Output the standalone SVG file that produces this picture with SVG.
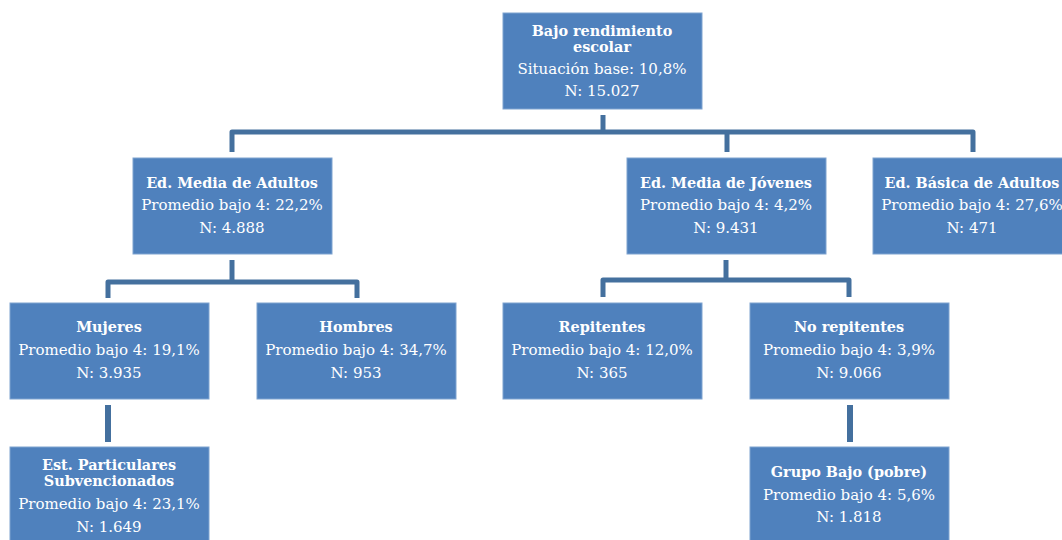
<svg xmlns="http://www.w3.org/2000/svg" width="1062" height="540" viewBox="0 0 1062 540">
<style>
.box{fill:#4F81BD;stroke:#7FA3D0;stroke-width:1}
.t{font-family:"DejaVu Serif","Liberation Serif",serif;font-size:15px;fill:#FFFFFF;text-anchor:middle}
.b{font-weight:bold;font-size:14.4px}
.c{fill:none;stroke:#44709E;stroke-width:5;stroke-linejoin:round}
</style>
<rect width="1062" height="540" fill="#FFFFFF"/>
<g id="connectors">
<path class="c" d="M603 115 V132"/>
<path class="c" d="M232 152 V132 H973 V152"/>
<path class="c" d="M727 132 V152"/>
<path class="c" d="M232 260 V282"/>
<path class="c" d="M108 298 V282 H357 V298"/>
<path class="c" d="M726 260 V280"/>
<path class="c" d="M603 297 V280 H849 V297"/>
<path class="c" d="M108 405 V442" style="stroke-width:6;stroke-linejoin:miter"/>
<path class="c" d="M850 405 V442" style="stroke-width:6;stroke-linejoin:miter"/>
</g>
<g id="root">
<rect class="box" x="503" y="13" width="199" height="96"/>
<text class="t b" x="602" y="36">Bajo rendimiento</text>
<text class="t b" x="602" y="52">escolar</text>
<text class="t" x="602" y="74">Situación base: 10,8%</text>
<text class="t" x="602" y="96">N: 15.027</text>
</g>
<g id="media-adultos">
<rect class="box" x="133" y="158" width="199" height="96"/>
<text class="t b" x="232" y="188">Ed. Media de Adultos</text>
<text class="t" x="232" y="210">Promedio bajo 4: 22,2%</text>
<text class="t" x="232" y="233">N: 4.888</text>
</g>
<g id="media-jovenes">
<rect class="box" x="627" y="158" width="199" height="96"/>
<text class="t b" x="726" y="188">Ed. Media de Jóvenes</text>
<text class="t" x="726" y="210">Promedio bajo 4: 4,2%</text>
<text class="t" x="726" y="233">N: 9.431</text>
</g>
<g id="basica-adultos">
<rect class="box" x="873" y="158" width="199" height="96"/>
<text class="t b" x="972" y="188">Ed. Básica de Adultos</text>
<text class="t" x="972" y="210">Promedio bajo 4: 27,6%</text>
<text class="t" x="972" y="233">N: 471</text>
</g>
<g id="mujeres">
<rect class="box" x="10" y="303" width="199" height="96"/>
<text class="t b" x="109" y="332">Mujeres</text>
<text class="t" x="109" y="355">Promedio bajo 4: 19,1%</text>
<text class="t" x="109" y="378">N: 3.935</text>
</g>
<g id="hombres">
<rect class="box" x="257" y="303" width="199" height="96"/>
<text class="t b" x="356" y="332">Hombres</text>
<text class="t" x="356" y="355">Promedio bajo 4: 34,7%</text>
<text class="t" x="356" y="378">N: 953</text>
</g>
<g id="repitentes">
<rect class="box" x="503" y="303" width="199" height="96"/>
<text class="t b" x="602" y="332">Repitentes</text>
<text class="t" x="602" y="355">Promedio bajo 4: 12,0%</text>
<text class="t" x="602" y="378">N: 365</text>
</g>
<g id="no-repitentes">
<rect class="box" x="750" y="303" width="199" height="96"/>
<text class="t b" x="849" y="332">No repitentes</text>
<text class="t" x="849" y="355">Promedio bajo 4: 3,9%</text>
<text class="t" x="849" y="378">N: 9.066</text>
</g>
<g id="particulares">
<rect class="box" x="10" y="447" width="199" height="100"/>
<text class="t b" x="109" y="470">Est. Particulares</text>
<text class="t b" x="109" y="486">Subvencionados</text>
<text class="t" x="109" y="509">Promedio bajo 4: 23,1%</text>
<text class="t" x="109" y="532">N: 1.649</text>
</g>
<g id="grupo-bajo">
<rect class="box" x="750" y="447" width="199" height="100"/>
<text class="t b" x="849" y="477">Grupo Bajo (pobre)</text>
<text class="t" x="849" y="500">Promedio bajo 4: 5,6%</text>
<text class="t" x="849" y="522">N: 1.818</text>
</g>
</svg>
